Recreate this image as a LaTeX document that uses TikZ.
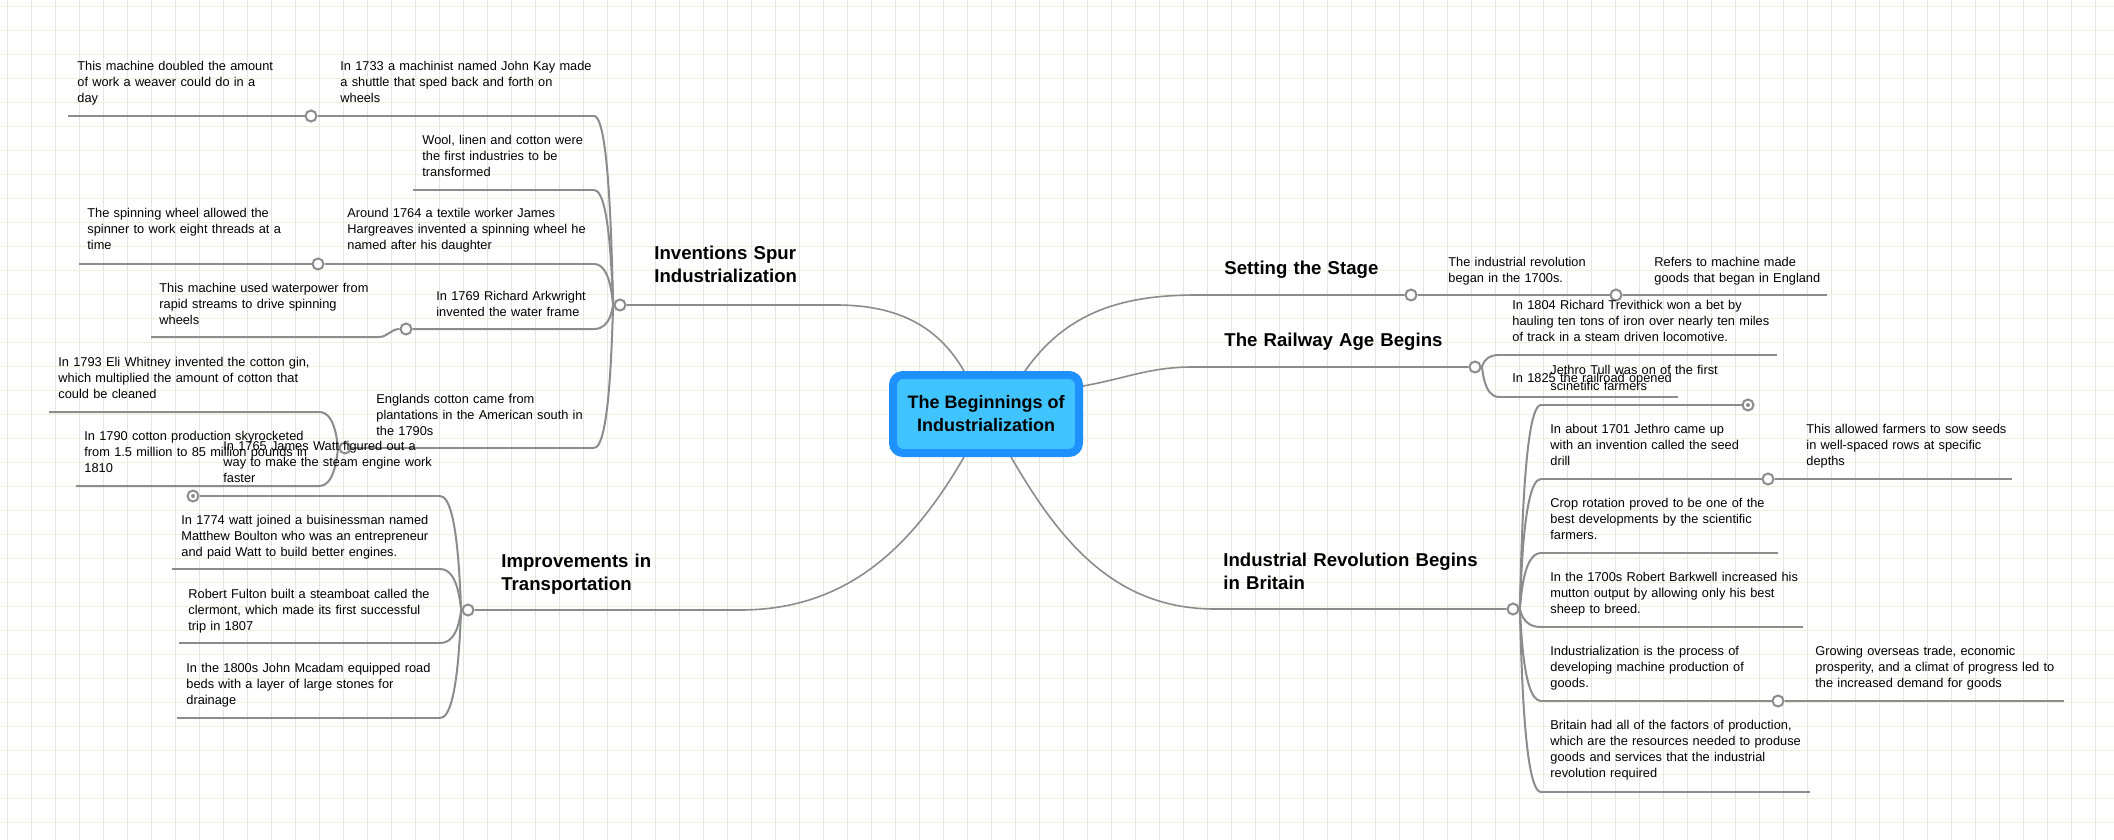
\documentclass[tikz,border=0pt]{standalone}
\usepackage{fontspec}
\setmainfont{Liberation Sans}
\usetikzlibrary{backgrounds}
\definecolor{linegray}{RGB}{140,140,140}
\definecolor{gridv}{RGB}{228,232,220}
\definecolor{gridh}{RGB}{233,243,224}
\definecolor{rootedge}{RGB}{30,144,255}
\definecolor{rootfill}{RGB}{64,196,255}

\begin{document}
\begin{tikzpicture}[x=0.5pt,y=-0.5pt,
    topic/.style={anchor=base west,inner sep=0pt,text width=160pt,align=left,font=\fontsize{6.4}{8}\selectfont},
    head/.style={anchor=base west,inner sep=0pt,text width=170pt,align=left,font=\fontsize{9.3}{11.5}\selectfont\bfseries},
    hub/.style={circle,draw=linegray,fill=white,line width=1pt,inner sep=0pt,minimum size=5.5pt},
    knob/.style={hub,path picture={\fill[linegray] (path picture bounding box.center) circle (1pt);}},
    branch/.style={draw=linegray,line width=1pt},
    trunk/.style={draw=linegray,line width=0.8pt}]
  \useasboundingbox (0,0) rectangle (2114,840);
  \begin{scope}[on background layer]
    \fill[white] (0,0) rectangle (2114,840);
    \foreach \gx in {0,...,87}
      \draw[gridv,line width=0.5pt] (7.3+24*\gx,0) -- (7.3+24*\gx,840);
    \foreach \gy in {0,...,34}
      \draw[gridh,line width=0.5pt] (0,6.3+24*\gy) -- (2114,6.3+24*\gy);
  \end{scope}

  \node[draw=rootedge,fill=rootfill,line width=4pt,rounded corners=5pt,minimum width=93pt,minimum height=39pt,
    align=center,font=\fontsize{9}{11.5}\selectfont\bfseries] (root) at (986,414) {The Beginnings of\\Industrialization};

  % hubs
  \node[hub] (inv) at (620,305) {};
  \node[hub] (trans) at (468,610) {};
  \node[hub] (stage) at (1411,295) {};
  \node[hub] (rail) at (1475,367) {};
  \node[hub] (brit) at (1513,609) {};
  \node[hub] (kay) at (311,116) {};
  \node[hub] (harg) at (318,264) {};
  \node[hub] (ark) at (406,329) {};
  \node[hub] (eng) at (345,448) {};
  \node[knob] (watt) at (193,496) {};
  \node[hub] (rev) at (1616,295) {};
  \node[knob] (tull) at (1748,405) {};
  \node[hub] (seed) at (1768,479) {};
  \node[hub] (proc) at (1778,701) {};

  \coordinate (inv-h) at (836,305);
  \coordinate (inv-t) at (612,305);
  \coordinate (trans-h) at (740,610);
  \coordinate (trans-t) at (460,610);
  \coordinate (stage-h) at (1197,295);
  \coordinate (rail-h) at (1193,367);
  \coordinate (rail-t) at (1483,367);
  \coordinate (brit-h) at (1215,609);
  \coordinate (brit-t) at (1521,609);
  \coordinate (eng-t) at (337,448);

  \coordinate (kay-e) at (594,116);
  \coordinate (day-w) at (68,116);
  \coordinate (wool-e) at (594,190);
  \coordinate (wool-w) at (413,190);
  \coordinate (harg-e) at (594,264);
  \coordinate (spin-w) at (79,264);
  \coordinate (ark-e) at (594,329);
  \coordinate (water-e) at (379,337);
  \coordinate (water-w) at (151,337);
  \coordinate (eng-e) at (594,448);
  \coordinate (whit-e) at (319,412);
  \coordinate (whit-w) at (49,412);
  \coordinate (prod-e) at (319,486);
  \coordinate (prod-w) at (76,486);

  \coordinate (watt-e) at (440,496);
  \coordinate (boul-e) at (440,569);
  \coordinate (boul-w) at (172,569);
  \coordinate (fult-e) at (440,643);
  \coordinate (fult-w) at (179,643);
  \coordinate (mcad-e) at (440,718);
  \coordinate (mcad-w) at (177,718);

  \coordinate (stage-e) at (1827,295);
  \coordinate (trev-w) at (1499,355);
  \coordinate (trev-e) at (1777,355);
  \coordinate (rr-w) at (1499,397);
  \coordinate (rr-e) at (1678,397);
  \coordinate (tull-w) at (1541,405);
  \coordinate (seed-w) at (1541,479);
  \coordinate (sow-e) at (2012,479);
  \coordinate (crop-w) at (1541,553);
  \coordinate (crop-e) at (1778,553);
  \coordinate (bark-w) at (1541,627);
  \coordinate (bark-e) at (1803,627);
  \coordinate (proc-w) at (1541,701);
  \coordinate (grow-e) at (2064,701);
  \coordinate (fact-w) at (1541,792);
  \coordinate (fact-e) at (1810,792);

  \begin{scope}[on background layer]
    \draw[trunk] ([xshift=-11pt]root.north) to[out=120,in=0] (inv-h) -- (inv);
    \draw[trunk] ([xshift=-11pt]root.south) to[out=240,in=0] (trans-h) -- (trans);
    \draw[trunk] ([xshift=19.5pt]root.north) to[out=55,in=180] (stage-h) -- (stage);
    \draw[trunk] ([yshift=14pt]root.east) to[out=10,in=180] (rail-h) -- (rail);
    \draw[trunk] ([xshift=12.5pt]root.south) to[out=-60,in=180] (brit-h) -- (brit);

    \foreach \c in {kay-e,wool-e,harg-e,ark-e,eng-e}
      \draw[branch] (inv) .. controls (inv-t) and (inv-t |- \c) .. (\c);
    \draw[branch] (day-w) -- (kay) -- (kay-e);
    \draw[branch] (wool-w) -- (wool-e);
    \draw[branch] (spin-w) -- (harg) -- (harg-e);
    \draw[branch] (water-w) -- (water-e) to[out=0,in=180] (ark) -- (ark-e);
    \draw[branch] (eng) -- (eng-e);
    \draw[branch] (eng) .. controls (eng-t) and (eng-t |- whit-e) .. (whit-e) -- (whit-w);
    \draw[branch] (eng) .. controls (eng-t) and (eng-t |- prod-e) .. (prod-e) -- (prod-w);

    \foreach \c in {watt-e,boul-e,fult-e,mcad-e}
      \draw[branch] (trans) .. controls (trans-t) and (trans-t |- \c) .. (\c);
    \draw[branch] (watt) -- (watt-e);
    \draw[branch] (boul-w) -- (boul-e);
    \draw[branch] (fult-w) -- (fult-e);
    \draw[branch] (mcad-w) -- (mcad-e);

    \draw[branch] (stage) -- (rev) -- (stage-e);
    \foreach \c in {trev-w,rr-w}
      \draw[branch] (rail) .. controls (rail-t) and (rail-t |- \c) .. (\c);
    \draw[branch] (trev-w) -- (trev-e);
    \draw[branch] (rr-w) -- (rr-e);

    \foreach \c in {tull-w,seed-w,crop-w,bark-w,proc-w,fact-w}
      \draw[branch] (brit) .. controls (brit-t) and (brit-t |- \c) .. (\c);
    \draw[branch] (tull-w) -- (tull);
    \draw[branch] (seed-w) -- (seed) -- (sow-e);
    \draw[branch] (crop-w) -- (crop-e);
    \draw[branch] (bark-w) -- (bark-e);
    \draw[branch] (proc-w) -- (proc) -- (grow-e);
    \draw[branch] (fact-w) -- (fact-e);
  \end{scope}

  % headings
  \node[head] (inv-l) at (654,259.5) {Inventions Spur\\Industrialization};
  \node[head] (trans-l) at (501,567.5) {Improvements in\\Transportation};
  \node[head] (stage-l) at (1224,274.5) {Setting the Stage};
  \node[head] (rail-l) at (1224,346.5) {The Railway Age Begins};
  \node[head] (brit-l) at (1223,566.5) {Industrial Revolution Begins\\in Britain};

  % topics
  \node[topic] (day) at (77,70.5) {This machine doubled the amount\\of work a weaver could do in a\\day};
  \node[topic] (kay-l) at (340,70.5) {In 1733 a machinist named John Kay made\\a shuttle that sped back and forth on\\wheels};
  \node[topic] (wool) at (422,144.5) {Wool, linen and cotton were\\the first industries to be\\transformed};
  \node[topic] (spin) at (87,217.5) {The spinning wheel allowed the\\spinner to work eight threads at a\\time};
  \node[topic] (harg-l) at (347,217.5) {Around 1764 a textile worker James\\Hargreaves invented a spinning wheel he\\named after his daughter};
  \node[topic] (water) at (159,292.5) {This machine used waterpower from\\rapid streams to drive spinning\\wheels};
  \node[topic] (ark-l) at (436,300.5) {In 1769 Richard Arkwright\\invented the water frame};
  \node[topic] (whit) at (58,366.5) {In 1793 Eli Whitney invented the cotton gin,\\which multiplied the amount of cotton that\\could be cleaned};
  \node[topic] (eng-l) at (376,403.5) {Englands cotton came from\\plantations in the American south in\\the 1790s};
  \node[topic] (prod) at (84,440.5) {In 1790 cotton production skyrocketed\\from 1.5 million to 85 million pounds in\\1810};
  \node[topic] (watt-l) at (223,450.5) {In 1765 James Watt figured out a\\way to make the steam engine work\\faster};
  \node[topic] (boul) at (181,524.5) {In 1774 watt joined a buisinessman named\\Matthew Boulton who was an entrepreneur\\and paid Watt to build better engines.};
  \node[topic] (fult) at (188,598.5) {Robert Fulton built a steamboat called the\\clermont, which made its first successful\\trip in 1807};
  \node[topic] (mcad) at (186,672.5) {In the 1800s John Mcadam equipped road\\beds with a layer of large stones for\\drainage};

  \node[topic] (rev-l) at (1448,266.5) {The industrial revolution\\began in the 1700s.};
  \node[topic] (made) at (1654,266.5) {Refers to machine made\\goods that began in England};
  \node[topic] (trev) at (1512,309.5) {In 1804 Richard Trevithick won a bet by\\hauling ten tons of iron over nearly ten miles\\of track in a steam driven locomotive.};
  \node[topic] (rr) at (1512,382.5) {In 1825 the railroad opened};
  \node[topic] (tull-l) at (1550,374.5) {Jethro Tull was on of the first\\scinetific farmers};
  \node[topic] (seed-l) at (1550,433.5) {In about 1701 Jethro came up\\with an invention called the seed\\drill};
  \node[topic] (sow) at (1806,433.5) {This allowed farmers to sow seeds\\in well-spaced rows at specific\\depths};
  \node[topic] (crop) at (1550,507.5) {Crop rotation proved to be one of the\\best developments by the scientific\\farmers.};
  \node[topic] (bark) at (1550,581.5) {In the 1700s Robert Barkwell increased his\\mutton output by allowing only his best\\sheep to breed.};
  \node[topic] (proc-l) at (1550,655.5) {Industrialization is the process of\\developing machine production of\\goods.};
  \node[topic] (grow) at (1815,655.5) {Growing overseas trade, economic\\prosperity, and a climat of progress led to\\the increased demand for goods};
  \node[topic] (fact) at (1550,729.5) {Britain had all of the factors of production,\\which are the resources needed to produse\\goods and services that the industrial\\revolution required};
\end{tikzpicture}
\end{document}
